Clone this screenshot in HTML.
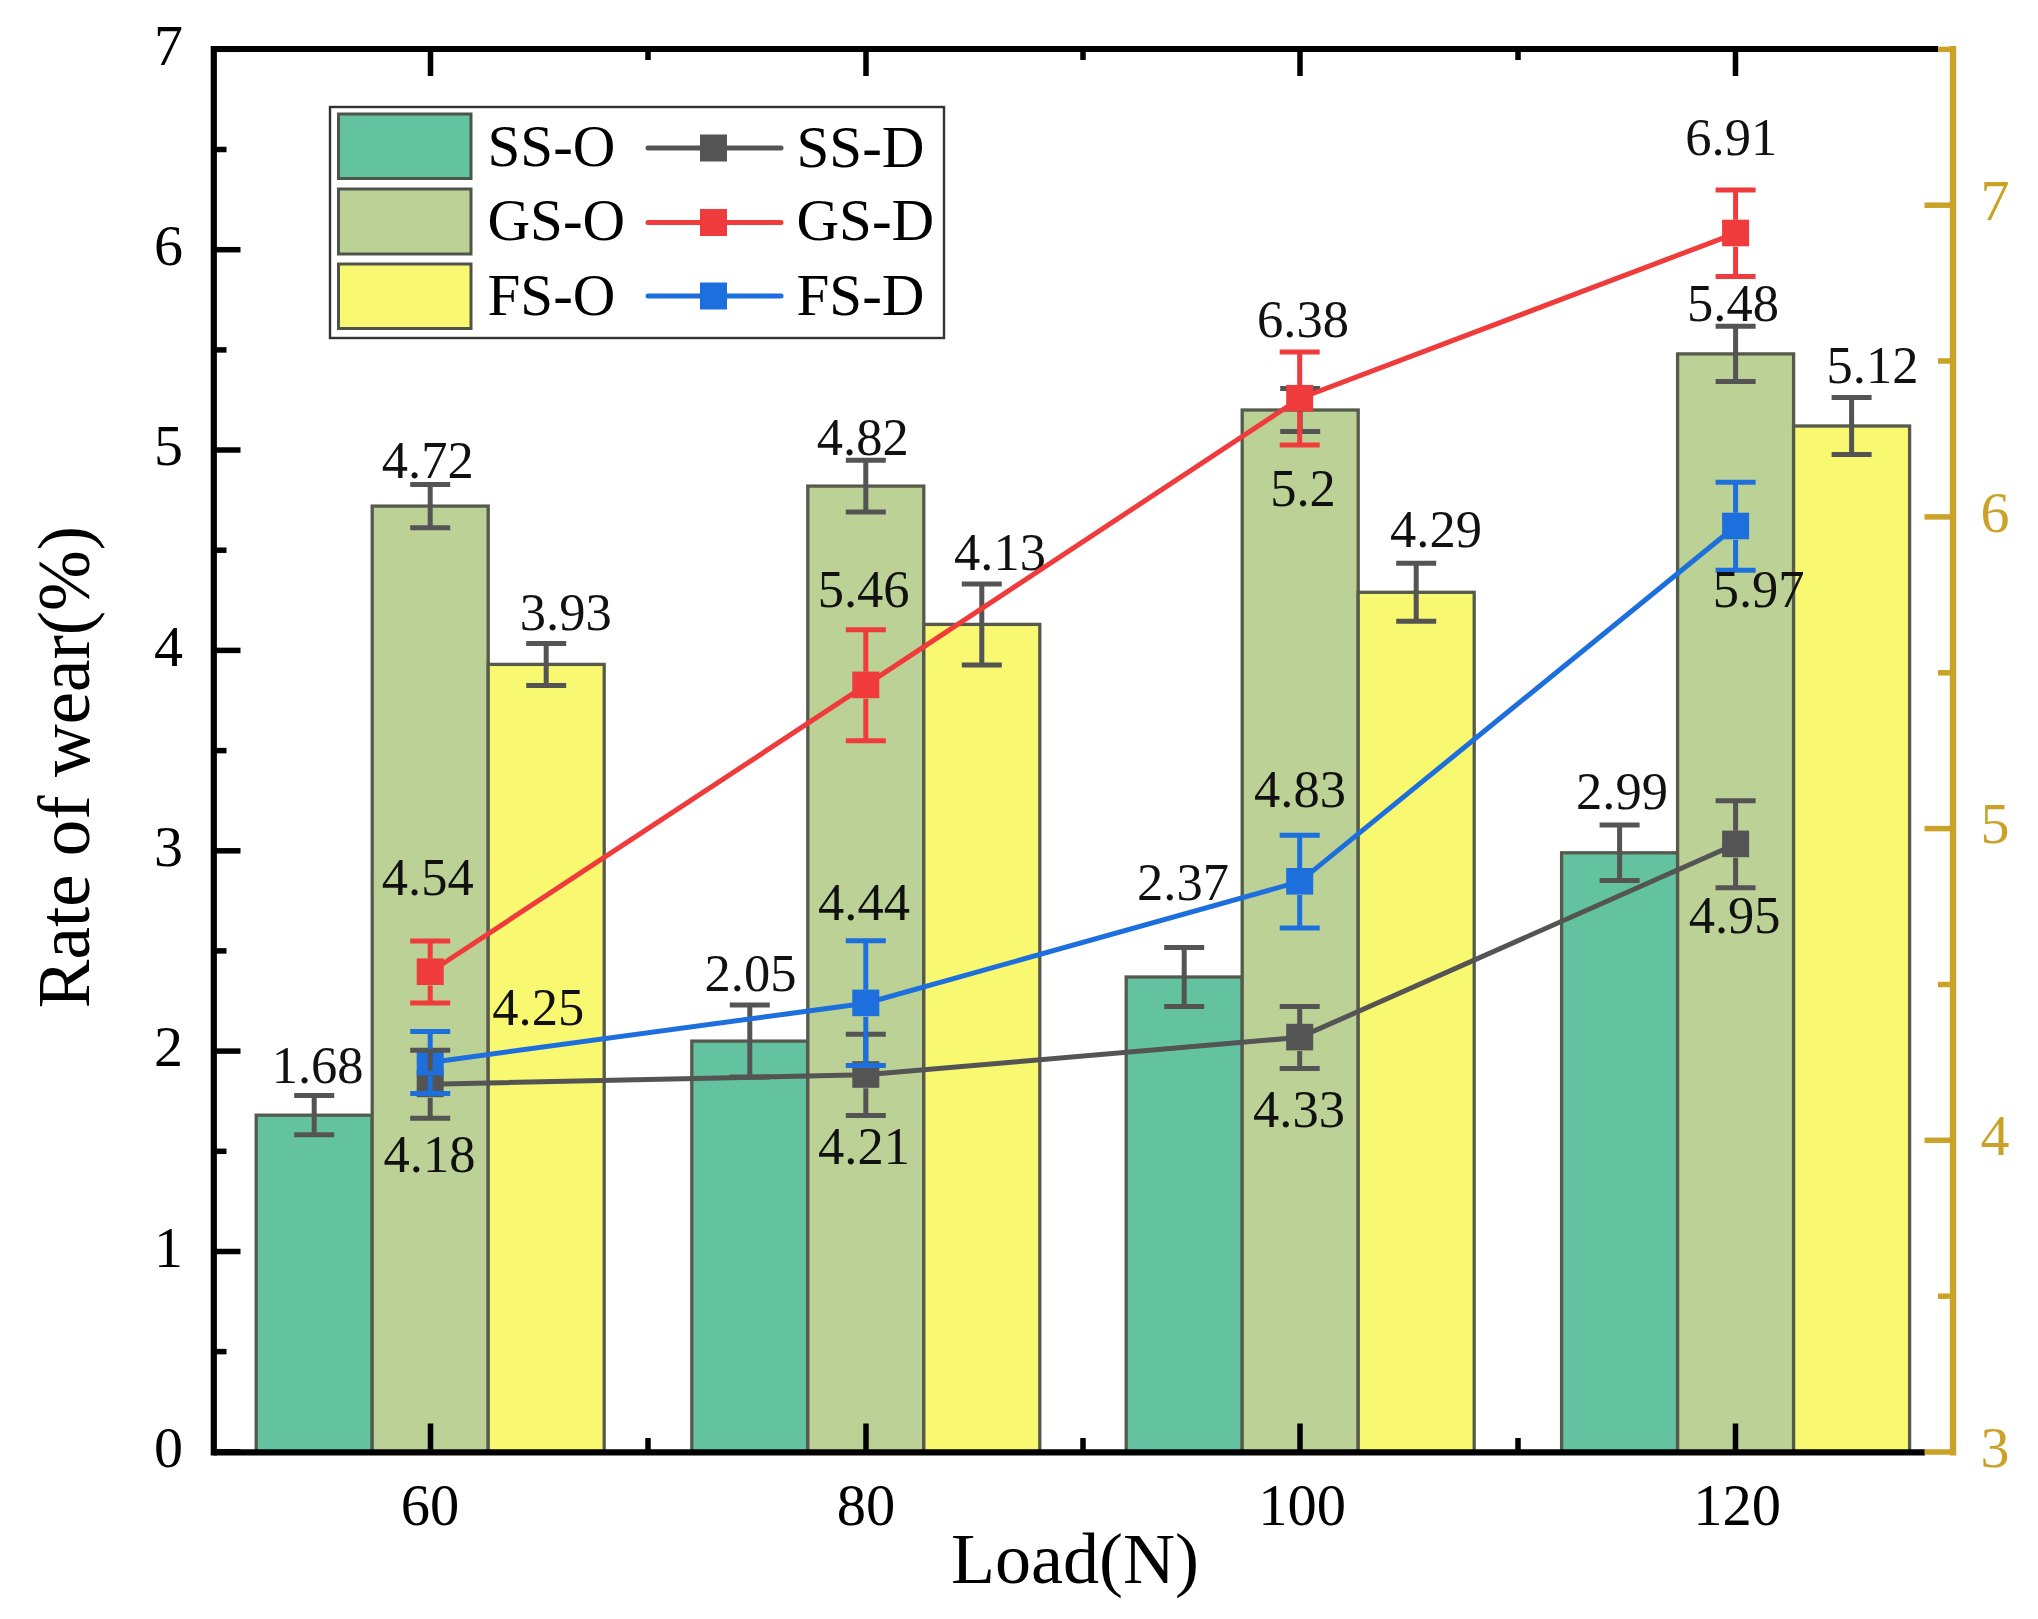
<!DOCTYPE html>
<html lang="en">
<head>
<meta charset="utf-8">
<title>Rate of wear vs Load</title>
<style>
html,body{margin:0;padding:0;background:#fff;}
body{width:2038px;height:1619px;overflow:hidden;}
svg{display:block;filter:blur(0.55px);font-family:'Liberation Serif', 'Times New Roman', serif;}
</style>
</head>
<body>
<svg width="2038" height="1619" viewBox="0 0 2038 1619">
<rect x="0" y="0" width="2038" height="1619" fill="#fff"/>
<g id="bars">
<rect x="256.2" y="1115.2" width="116.0" height="336.6" fill="#63C2A0" stroke="#555A4C" stroke-width="3.3"/>
<rect x="372.2" y="506.1" width="116.0" height="945.7" fill="#BCD195" stroke="#555A4C" stroke-width="3.3"/>
<rect x="488.2" y="664.4" width="116.0" height="787.4" fill="#F8F871" stroke="#555A4C" stroke-width="3.3"/>
<rect x="691.8" y="1041.1" width="116.0" height="410.7" fill="#63C2A0" stroke="#555A4C" stroke-width="3.3"/>
<rect x="807.8" y="486.1" width="116.0" height="965.7" fill="#BCD195" stroke="#555A4C" stroke-width="3.3"/>
<rect x="923.8" y="624.4" width="116.0" height="827.4" fill="#F8F871" stroke="#555A4C" stroke-width="3.3"/>
<rect x="1126.2" y="977.0" width="116.0" height="474.8" fill="#63C2A0" stroke="#555A4C" stroke-width="3.3"/>
<rect x="1242.2" y="410.0" width="116.0" height="1041.8" fill="#BCD195" stroke="#555A4C" stroke-width="3.3"/>
<rect x="1358.2" y="592.3" width="116.0" height="859.5" fill="#F8F871" stroke="#555A4C" stroke-width="3.3"/>
<rect x="1561.6" y="852.8" width="116.0" height="599.0" fill="#63C2A0" stroke="#555A4C" stroke-width="3.3"/>
<rect x="1677.6" y="353.9" width="116.0" height="1097.9" fill="#BCD195" stroke="#555A4C" stroke-width="3.3"/>
<rect x="1793.6" y="426.0" width="116.0" height="1025.8" fill="#F8F871" stroke="#555A4C" stroke-width="3.3"/>
</g>
<g id="barerr">
<path d="M314.2 1095.6V1134.8M294.2 1095.6H334.2M294.2 1134.8H334.2" stroke="#545454" stroke-width="5" fill="none"/>
<path d="M430.2 484.4V527.8M410.2 484.4H450.2M410.2 527.8H450.2" stroke="#545454" stroke-width="5" fill="none"/>
<path d="M546.2 643.4V685.4M526.2 643.4H566.2M526.2 685.4H566.2" stroke="#545454" stroke-width="5" fill="none"/>
<path d="M749.8 1005.1V1077.1M729.8 1005.1H769.8M729.8 1077.1H769.8" stroke="#545454" stroke-width="5" fill="none"/>
<path d="M865.8 460.3V511.9M845.8 460.3H885.8M845.8 511.9H885.8" stroke="#545454" stroke-width="5" fill="none"/>
<path d="M981.8 583.9V664.9M961.8 583.9H1001.8M961.8 664.9H1001.8" stroke="#545454" stroke-width="5" fill="none"/>
<path d="M1184.2 947.6V1006.4M1164.2 947.6H1204.2M1164.2 1006.4H1204.2" stroke="#545454" stroke-width="5" fill="none"/>
<path d="M1300.2 388.6V431.4M1280.2 388.6H1320.2M1280.2 431.4H1320.2" stroke="#545454" stroke-width="5" fill="none"/>
<path d="M1416.2 563.3V621.3M1396.2 563.3H1436.2M1396.2 621.3H1436.2" stroke="#545454" stroke-width="5" fill="none"/>
<path d="M1619.6 825.1V880.5M1599.6 825.1H1639.6M1599.6 880.5H1639.6" stroke="#545454" stroke-width="5" fill="none"/>
<path d="M1735.6 326.2V381.6M1715.6 326.2H1755.6M1715.6 381.6H1755.6" stroke="#545454" stroke-width="5" fill="none"/>
<path d="M1851.6 397.5V454.5M1831.6 397.5H1871.6M1831.6 454.5H1871.6" stroke="#545454" stroke-width="5" fill="none"/>
</g>
<g id="barlabels">
<text x="317.6" y="1082.6" font-size="52.5" fill="#111" text-anchor="middle">1.68</text>
<text x="427.7" y="478.0" font-size="52.5" fill="#111" text-anchor="middle">4.72</text>
<text x="565.8" y="630.0" font-size="52.5" fill="#111" text-anchor="middle">3.93</text>
<text x="750.5" y="991.0" font-size="52.5" fill="#111" text-anchor="middle">2.05</text>
<text x="862.8" y="454.6" font-size="52.5" fill="#111" text-anchor="middle">4.82</text>
<text x="1000.0" y="570.2" font-size="52.5" fill="#111" text-anchor="middle">4.13</text>
<text x="1183.0" y="900.3" font-size="52.5" fill="#111" text-anchor="middle">2.37</text>
<text x="1303.0" y="505.8" font-size="52.5" fill="#111" text-anchor="middle">5.2</text>
<text x="1436.0" y="547.0" font-size="52.5" fill="#111" text-anchor="middle">4.29</text>
<text x="1622.0" y="808.5" font-size="52.5" fill="#111" text-anchor="middle">2.99</text>
<text x="1733.0" y="320.7" font-size="52.5" fill="#111" text-anchor="middle">5.48</text>
<text x="1872.5" y="383.3" font-size="52.5" fill="#111" text-anchor="middle">5.12</text>
</g>
<g id="lines">
<g id="ss">
<polyline points="430.2,1084.2 865.8,1074.8 1299.7,1037.4 1735.6,844.2" fill="none" stroke="#545454" stroke-width="5"/>
<rect x="416.7" y="1070.6" width="27" height="26.6" fill="#545454"/>
<rect x="852.3" y="1061.2" width="27" height="26.6" fill="#545454"/>
<rect x="1286.2" y="1023.8" width="27" height="26.6" fill="#545454"/>
<rect x="1722.1" y="830.6" width="27" height="26.6" fill="#545454"/>
</g>
<g id="gs">
<polyline points="430.2,972.0 865.8,685.2 1299.7,398.5 1735.6,233.3" fill="none" stroke="#EF3B3B" stroke-width="5"/>
<rect x="416.7" y="958.4" width="27" height="26.6" fill="#EF3B3B"/>
<rect x="852.3" y="671.6" width="27" height="26.6" fill="#EF3B3B"/>
<rect x="1286.2" y="384.9" width="27" height="26.6" fill="#EF3B3B"/>
<rect x="1722.1" y="219.7" width="27" height="26.6" fill="#EF3B3B"/>
</g>
<g id="fs">
<polyline points="430.2,1062.4 865.8,1003.2 1299.7,881.6 1735.6,526.3" fill="none" stroke="#1C6FDD" stroke-width="5"/>
<rect x="416.7" y="1048.8" width="27" height="26.6" fill="#1C6FDD"/>
<rect x="852.3" y="989.6" width="27" height="26.6" fill="#1C6FDD"/>
<rect x="1286.2" y="868.0" width="27" height="26.6" fill="#1C6FDD"/>
<rect x="1722.1" y="512.7" width="27" height="26.6" fill="#1C6FDD"/>
</g>
<g id="ss-err">
<path d="M430.2 1050.2V1070.7M430.2 1097.7V1118.2M410.2 1050.2H450.2M410.2 1118.2H450.2" stroke="#545454" stroke-width="5" fill="none"/>
<path d="M865.8 1034.2V1061.3M865.8 1088.3V1115.4M845.8 1034.2H885.8M845.8 1115.4H885.8" stroke="#545454" stroke-width="5" fill="none"/>
<path d="M1299.7 1006.4V1023.9M1299.7 1050.9V1068.4M1279.7 1006.4H1319.7M1279.7 1068.4H1319.7" stroke="#545454" stroke-width="5" fill="none"/>
<path d="M1735.6 800.7V830.7M1735.6 857.7V887.7M1715.6 800.7H1755.6M1715.6 887.7H1755.6" stroke="#545454" stroke-width="5" fill="none"/>
</g>
<g id="gs-err">
<path d="M430.2 941.0V958.5M430.2 985.5V1003.0M410.2 941.0H450.2M410.2 1003.0H450.2" stroke="#EF3B3B" stroke-width="5" fill="none"/>
<path d="M865.8 629.7V671.7M865.8 698.7V740.7M845.8 629.7H885.8M845.8 740.7H885.8" stroke="#EF3B3B" stroke-width="5" fill="none"/>
<path d="M1299.7 352.1V385.0M1299.7 412.0V444.9M1279.7 352.1H1319.7M1279.7 444.9H1319.7" stroke="#EF3B3B" stroke-width="5" fill="none"/>
<path d="M1735.6 190.0V219.8M1735.6 246.8V276.6M1715.6 190.0H1755.6M1715.6 276.6H1755.6" stroke="#EF3B3B" stroke-width="5" fill="none"/>
</g>
<g id="fs-err">
<path d="M430.2 1031.4V1048.9M430.2 1075.9V1093.4M410.2 1031.4H450.2M410.2 1093.4H450.2" stroke="#1C6FDD" stroke-width="5" fill="none"/>
<path d="M865.8 940.8V989.7M865.8 1016.7V1065.6M845.8 940.8H885.8M845.8 1065.6H885.8" stroke="#1C6FDD" stroke-width="5" fill="none"/>
<path d="M1299.7 835.3V868.1M1299.7 895.1V927.9M1279.7 835.3H1319.7M1279.7 927.9H1319.7" stroke="#1C6FDD" stroke-width="5" fill="none"/>
<path d="M1735.6 482.3V512.8M1735.6 539.8V570.3M1715.6 482.3H1755.6M1715.6 570.3H1755.6" stroke="#1C6FDD" stroke-width="5" fill="none"/>
</g>
</g>
<g id="linelabels">
<text x="429.5" y="1171.5" font-size="52.5" fill="#111" text-anchor="middle">4.18</text>
<text x="864.0" y="1164.3" font-size="52.5" fill="#111" text-anchor="middle">4.21</text>
<text x="1299.0" y="1126.5" font-size="52.5" fill="#111" text-anchor="middle">4.33</text>
<text x="1734.6" y="932.9" font-size="52.5" fill="#111" text-anchor="middle">4.95</text>
<text x="427.7" y="894.6" font-size="52.5" fill="#111" text-anchor="middle">4.54</text>
<text x="863.6" y="606.9" font-size="52.5" fill="#111" text-anchor="middle">5.46</text>
<text x="1303.0" y="337.0" font-size="52.5" fill="#111" text-anchor="middle">6.38</text>
<text x="1731.3" y="155.0" font-size="52.5" fill="#111" text-anchor="middle">6.91</text>
<text x="538.3" y="1024.5" font-size="52.5" fill="#111" text-anchor="middle">4.25</text>
<text x="864.0" y="919.7" font-size="52.5" fill="#111" text-anchor="middle">4.44</text>
<text x="1300.0" y="806.5" font-size="52.5" fill="#111" text-anchor="middle">4.83</text>
<text x="1758.6" y="606.5" font-size="52.5" fill="#111" text-anchor="middle">5.97</text>
</g>
<g id="axes" stroke="#000" fill="none">
<path d="M213.8 45.9V1455.3999999999999" stroke-width="6.2"/>
<path d="M213.8 1452.3H1925" stroke-width="6.2"/>
<path d="M213.8 49H1938" stroke-width="6.2"/>
<path d="M213.8 1451.8H240.5" stroke-width="5.5"/>
<path d="M213.8 1351.6H226.5" stroke-width="5.5"/>
<path d="M213.8 1251.5H240.5" stroke-width="5.5"/>
<path d="M213.8 1151.3H226.5" stroke-width="5.5"/>
<path d="M213.8 1051.1H240.5" stroke-width="5.5"/>
<path d="M213.8 950.9H226.5" stroke-width="5.5"/>
<path d="M213.8 850.8H240.5" stroke-width="5.5"/>
<path d="M213.8 750.6H226.5" stroke-width="5.5"/>
<path d="M213.8 650.4H240.5" stroke-width="5.5"/>
<path d="M213.8 550.2H226.5" stroke-width="5.5"/>
<path d="M213.8 450.0H240.5" stroke-width="5.5"/>
<path d="M213.8 349.9H226.5" stroke-width="5.5"/>
<path d="M213.8 249.7H240.5" stroke-width="5.5"/>
<path d="M213.8 149.5H226.5" stroke-width="5.5"/>
<path d="M213.8 49.3H240.5" stroke-width="5.5"/>
<path d="M430.5 1451.8V1423.5M430.5 49V76" stroke-width="5.5"/>
<path d="M648 1451.8V1438M648 49V60" stroke-width="5.5"/>
<path d="M866 1451.8V1423.5M866 49V76" stroke-width="5.5"/>
<path d="M1083 1451.8V1438M1083 49V60" stroke-width="5.5"/>
<path d="M1300 1451.8V1423.5M1300 49V76" stroke-width="5.5"/>
<path d="M1518 1451.8V1438M1518 49V60" stroke-width="5.5"/>
<path d="M1735.5 1451.8V1423.5M1735.5 49V76" stroke-width="5.5"/>
</g>
<g id="raxis" stroke="#CBA228" fill="none">
<path d="M1953 45.9V1455.3999999999999" stroke-width="6.4"/>
<path d="M1953 1452.0H1924.5" stroke-width="5.5"/>
<path d="M1953 1296.2H1938" stroke-width="5.5"/>
<path d="M1953 1140.3H1924.5" stroke-width="5.5"/>
<path d="M1953 984.5H1938" stroke-width="5.5"/>
<path d="M1953 828.6H1924.5" stroke-width="5.5"/>
<path d="M1953 672.8H1938" stroke-width="5.5"/>
<path d="M1953 516.9H1924.5" stroke-width="5.5"/>
<path d="M1953 361.0H1938" stroke-width="5.5"/>
<path d="M1953 205.2H1924.5" stroke-width="5.5"/>
<path d="M1953 49.4H1938" stroke-width="5.5"/>
</g>
<g id="ticklabels">
<text x="183.0" y="1467.0" font-size="58" fill="#000" text-anchor="end">0</text>
<text x="183.0" y="1266.7" font-size="58" fill="#000" text-anchor="end">1</text>
<text x="183.0" y="1066.3" font-size="58" fill="#000" text-anchor="end">2</text>
<text x="183.0" y="866.0" font-size="58" fill="#000" text-anchor="end">3</text>
<text x="183.0" y="665.6" font-size="58" fill="#000" text-anchor="end">4</text>
<text x="183.0" y="465.2" font-size="58" fill="#000" text-anchor="end">5</text>
<text x="183.0" y="264.9" font-size="58" fill="#000" text-anchor="end">6</text>
<text x="183.0" y="64.5" font-size="58" fill="#000" text-anchor="end">7</text>
<text x="430.0" y="1524.5" font-size="58.5" fill="#000" text-anchor="middle">60</text>
<text x="866.0" y="1524.5" font-size="58.5" fill="#000" text-anchor="middle">80</text>
<text x="1302.0" y="1524.5" font-size="58.5" fill="#000" text-anchor="middle">100</text>
<text x="1737.0" y="1524.5" font-size="58.5" fill="#000" text-anchor="middle">120</text>
<text x="1980.5" y="1466.8" font-size="58" fill="#CBA228" text-anchor="start">3</text>
<text x="1980.5" y="1155.1" font-size="58" fill="#CBA228" text-anchor="start">4</text>
<text x="1980.5" y="843.4" font-size="58" fill="#CBA228" text-anchor="start">5</text>
<text x="1980.5" y="531.7" font-size="58" fill="#CBA228" text-anchor="start">6</text>
<text x="1980.5" y="220.0" font-size="58" fill="#CBA228" text-anchor="start">7</text>
</g>
<text x="1075.0" y="1583.0" font-size="72" fill="#000" text-anchor="middle">Load(N)</text>
<text transform="translate(89 767) rotate(-90)" font-size="73" fill="#000" text-anchor="middle">Rate of wear(%)</text>
<g id="legend">
<rect x="330" y="107" width="614" height="231" fill="#fff" stroke="#333" stroke-width="2.4"/>
<rect x="338.5" y="114.0" width="132.5" height="64.5" fill="#63C2A0" stroke="#4f544a" stroke-width="3"/>
<text x="487.5" y="166.0" font-size="59" fill="#000" text-anchor="start">SS-O</text>
<rect x="338.5" y="189.0" width="132.5" height="65.0" fill="#BCD195" stroke="#4f544a" stroke-width="3"/>
<text x="487.5" y="240.0" font-size="59" fill="#000" text-anchor="start">GS-O</text>
<rect x="338.5" y="264.0" width="132.5" height="64.5" fill="#F8F871" stroke="#4f544a" stroke-width="3"/>
<text x="487.5" y="315.0" font-size="59" fill="#000" text-anchor="start">FS-O</text>
<path d="M648 148H781" stroke="#545454" stroke-width="5" stroke-linecap="round"/>
<rect x="700" y="134.5" width="27" height="27" fill="#545454"/>
<text x="796.5" y="166.5" font-size="59" fill="#000" text-anchor="start">SS-D</text>
<path d="M648 222.5H781" stroke="#EF3B3B" stroke-width="5" stroke-linecap="round"/>
<rect x="700" y="209.0" width="27" height="27" fill="#EF3B3B"/>
<text x="796.5" y="240.0" font-size="59" fill="#000" text-anchor="start">GS-D</text>
<path d="M648 296H781" stroke="#1C6FDD" stroke-width="5" stroke-linecap="round"/>
<rect x="700" y="282.5" width="27" height="27" fill="#1C6FDD"/>
<text x="796.5" y="314.7" font-size="59" fill="#000" text-anchor="start">FS-D</text>
</g>
</svg>
</body>
</html>
